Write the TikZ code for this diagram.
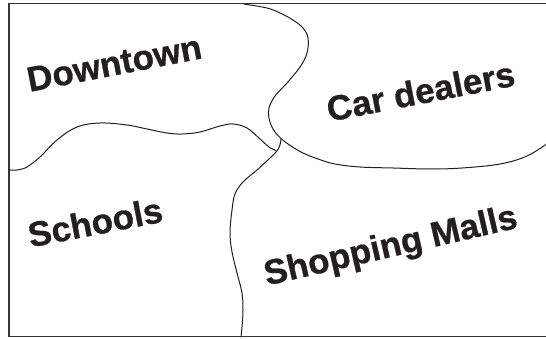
\documentclass[tikz,border=0pt]{standalone}
\usepackage{fontspec}
\setmainfont[BoldFeatures={FakeBold=0.8}]{Liberation Sans}
\definecolor{ink}{HTML}{231F20}
\begin{document}
\begin{tikzpicture}[x=1pt,y=-1pt,
  region/.style={font=\fontsize{35}{40}\selectfont\bfseries, anchor=base, inner sep=0pt, text=ink},
  frame/.style={line width=1.3pt, draw=ink!90},
  border/.style={line width=1pt, draw=ink, line join=round, line cap=round}]
\useasboundingbox (0,0) rectangle (546,339);
% frame (right side lies outside the picture)
\draw[frame] (549,3.5) -- (9,3.5) -- (9,336.5) -- (549,336.5);
\coordinate (J) at (281,138.5);
% Downtown / Car dealers boundary and the lower edge of Car dealers
\draw[border] plot[smooth, tension=0.6] coordinates {
  (244,4) (267,8) (280,13) (293,20) (303,28) (308,38) (307,53) (300,67)
  (287,83) (275,96) (269,108) (269,118) (273,129) (J) (291,146) (303,153)
  (318,159) (335,164) (360,167) (393,168) (430,169) (462,168) (500,164)
  (527,156) (548,143)};
% Downtown / Schools boundary
\draw[border] plot[smooth, tension=0.6] coordinates {
  (9,170) (17,170) (27,167) (40,157) (57,140) (77,127) (100,123) (127,125)
  (147,129) (167,133) (182,134) (200,132) (220,126) (233,124) (247,128)
  (260,139) (269,147) (276,150.5)};
% Schools / Shopping Malls boundary
\draw[border] plot[smooth, tension=0.6] coordinates {
  (J) (280,145) (276.5,151.5) (270,158) (257,170) (243,182) (235,194)
  (232,210) (230,233) (232,252) (237,273) (242,293) (243,310) (242,327)
  (241,337)};
% labels
\node[region, rotate=11] (down) at (116.5,75) {Downtown};
\node[region, rotate=11] (car) at (423,103.5) {Car dealers};
\node[region, rotate=11] (sch) at (97.5,234.5) {Schools};
\node[region, rotate=13] (mall) at (393,256.5) {Shopping Malls};
\end{tikzpicture}
\end{document}
